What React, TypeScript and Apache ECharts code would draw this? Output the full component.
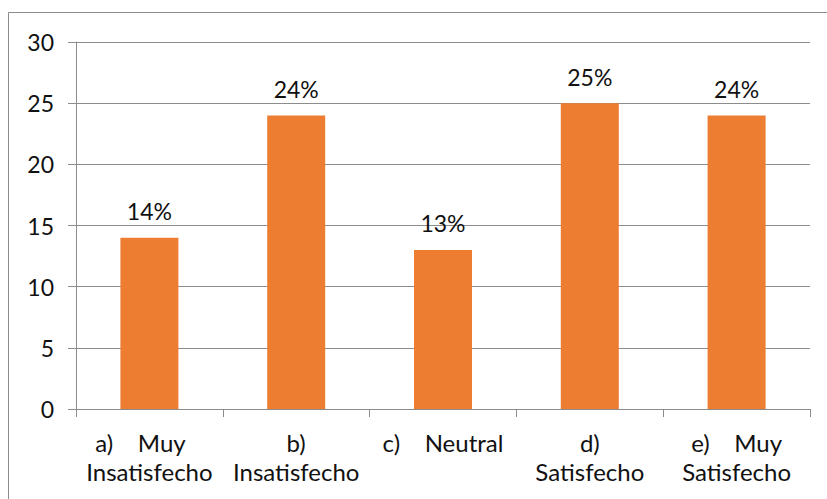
import React, { useEffect, useRef } from "react";
import * as echarts from "echarts";

const categories = [
  "a)    Muy   \nInsatisfecho",
  "b)\nInsatisfecho",
  "c)    Neutral",
  "d)\nSatisfecho",
  "e)    Muy\nSatisfecho",
];
const values = [14, 24, 13, 25, 24];
const valueLabels = ["14%", "24%", "13%", "25%", "24%"];
const yTicks = { min: 0, max: 30, interval: 5 };

export default function App() {
  const ref = useRef<HTMLDivElement>(null);
  useEffect(() => {
    const chart = echarts.init(ref.current!, null, { renderer: "svg" });
    const font = "Lato, 'Open Sans', sans-serif";
    chart.setOption({
      animation: false,
      backgroundColor: "#ffffff",
      graphic: [
        {
          type: "rect",
          shape: { x: 8.5, y: 12.5, width: 900, height: 600 },
          style: { fill: "none", stroke: "#8c8c8c", lineWidth: 1 },
          silent: true,
        },
      ],
      grid: { left: 76, right: 17, top: 42, bottom: 90, containLabel: false },
      xAxis: {
        type: "category",
        data: categories,
        axisLine: { lineStyle: { color: "#8c8c8c", width: 1 } },
        axisTick: { show: true, length: 8, alignWithLabel: false, lineStyle: { color: "#8c8c8c" } },
        axisLabel: {
          color: "#111111",
          fontFamily: font,
          fontSize: 24,
          lineHeight: 29,
          margin: 19,
          interval: 0,
        },
      },
      yAxis: {
        type: "value",
        min: yTicks.min,
        max: yTicks.max,
        interval: yTicks.interval,
        axisLine: { show: true, lineStyle: { color: "#8c8c8c", width: 1 } },
        axisTick: { show: true, length: 8, lineStyle: { color: "#8c8c8c" } },
        splitLine: { show: true, lineStyle: { color: "#8c8c8c", width: 1 } },
        axisLabel: {
          color: "#111111",
          fontFamily: font,
          fontSize: 23,
          margin: 22,
        },
      },
      series: [
        {
          type: "bar",
          data: values,
          barWidth: 58,
          itemStyle: { color: "#ED7D31" },
          label: {
            show: true,
            position: "top",
            distance: 15,
            color: "#111111",
            fontFamily: font,
            fontSize: 23,
            formatter: (p: any) => valueLabels[p.dataIndex],
          },
        },
      ],
    });
    return () => chart.dispose();
  }, []);
  return (
    <div
      ref={ref}
      style={{ position: "fixed", left: 0, top: 0, width: 827, height: 499 }}
    />
  );
}
